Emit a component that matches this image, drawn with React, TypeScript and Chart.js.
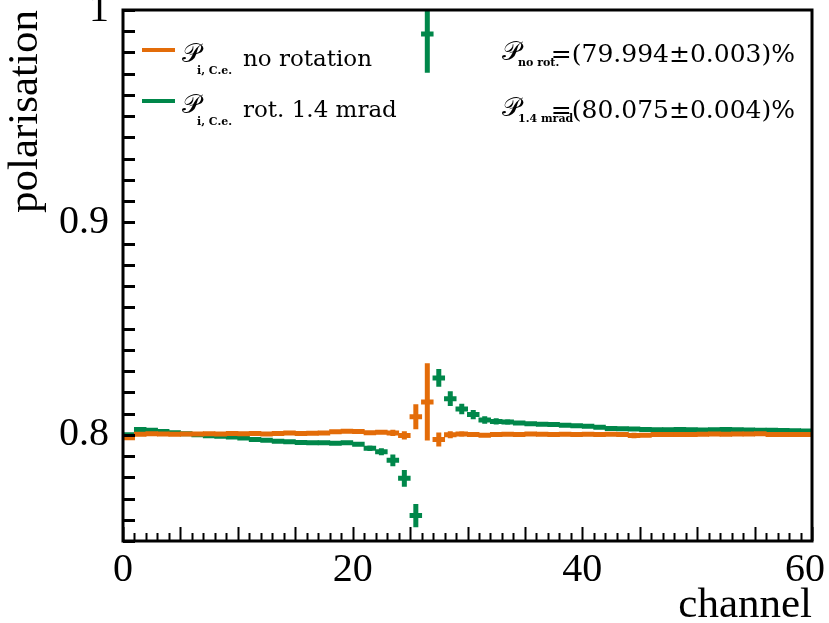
import React, { useEffect, useRef } from 'react';
import { Chart, registerables } from 'chart.js';

Chart.register(...registerables);

// ---- data -------------------------------------------------------------
const channels = [
  0.5, 1.5, 2.5, 3.5, 4.5, 5.5, 6.5, 7.5, 8.5, 9.5,
  10.5, 11.5, 12.5, 13.5, 14.5, 15.5, 16.5, 17.5, 18.5, 19.5,
  20.5, 21.5, 22.5, 23.5, 24.5, 25.5, 26.5, 27.5, 28.5, 29.5,
  30.5, 31.5, 32.5, 33.5, 34.5, 35.5, 36.5, 37.5, 38.5, 39.5,
  40.5, 41.5, 42.5, 43.5, 44.5, 45.5, 46.5, 47.5, 48.5, 49.5,
  50.5, 51.5, 52.5, 53.5, 54.5, 55.5, 56.5, 57.5, 58.5, 59.5,
];

const noRotation = [
  0.7986, 0.8003, 0.8005, 0.8004, 0.8003, 0.8004, 0.8004, 0.8005, 0.8004, 0.8006,
  0.8005, 0.8006, 0.8004, 0.8006, 0.8008, 0.8006, 0.8007, 0.8009, 0.8014, 0.8017,
  0.8016, 0.8010, 0.8012, 0.8009, 0.7997, 0.8085, 0.8155, 0.7978, 0.8000, 0.8004,
  0.8001, 0.7998, 0.8001, 0.8003, 0.8002, 0.8004, 0.8003, 0.8001, 0.8003, 0.8002,
  0.8003, 0.8002, 0.8003, 0.8001, 0.7997, 0.7998, 0.8001, 0.8002, 0.8002, 0.8002,
  0.8003, 0.8004, 0.8003, 0.8004, 0.8004, 0.8005, 0.8002, 0.8002, 0.8002, 0.8002,
];
const noRotationErr = [
  0.0004, 0.0004, 0.0004, 0.0004, 0.0004, 0.0004, 0.0004, 0.0004, 0.0004, 0.0004,
  0.0004, 0.0004, 0.0004, 0.0004, 0.0004, 0.0004, 0.0004, 0.0004, 0.0004, 0.0005,
  0.0005, 0.0006, 0.0007, 0.0010, 0.0015, 0.0054, 0.0177, 0.0028, 0.0012, 0.0008,
  0.0006, 0.0005, 0.0005, 0.0004, 0.0004, 0.0004, 0.0004, 0.0004, 0.0004, 0.0004,
  0.0004, 0.0004, 0.0004, 0.0004, 0.0008, 0.0004, 0.0004, 0.0004, 0.0004, 0.0004,
  0.0004, 0.0004, 0.0004, 0.0004, 0.0004, 0.0004, 0.0004, 0.0004, 0.0004, 0.0004,
];

const rotated = [
  0.8000, 0.8025, 0.8022, 0.8015, 0.8010, 0.8005, 0.8000, 0.7996, 0.7993, 0.7990,
  0.7985, 0.7978, 0.7974, 0.7970, 0.7967, 0.7964, 0.7963, 0.7962, 0.7960, 0.7962,
  0.7955, 0.7937, 0.7920, 0.7880, 0.7795, 0.7620, 0.9887, 0.8268, 0.8170, 0.8122,
  0.8095, 0.8070, 0.8063, 0.8060, 0.8055, 0.8052, 0.8050, 0.8048, 0.8045, 0.8043,
  0.8040, 0.8035, 0.8030, 0.8028, 0.8027, 0.8025, 0.8024, 0.8024, 0.8025, 0.8024,
  0.8023, 0.8024, 0.8025, 0.8024, 0.8023, 0.8022, 0.8021, 0.8020, 0.8019, 0.8018,
];
const rotatedErr = [
  0.0004, 0.0004, 0.0004, 0.0004, 0.0004, 0.0004, 0.0004, 0.0004, 0.0004, 0.0004,
  0.0004, 0.0004, 0.0004, 0.0004, 0.0004, 0.0004, 0.0004, 0.0004, 0.0004, 0.0004,
  0.0006, 0.0008, 0.0012, 0.0023, 0.0035, 0.0050, 0.0178, 0.0037, 0.0030, 0.0020,
  0.0017, 0.0013, 0.0010, 0.0008, 0.0005, 0.0005, 0.0005, 0.0005, 0.0005, 0.0005,
  0.0005, 0.0005, 0.0005, 0.0005, 0.0005, 0.0005, 0.0005, 0.0005, 0.0005, 0.0005,
  0.0005, 0.0005, 0.0005, 0.0005, 0.0005, 0.0005, 0.0005, 0.0005, 0.0005, 0.0005,
];

const binHalfWidth = 0.5;
const xTickLabels = [0, 20, 40, 60];
const yTickLabels = [0.8, 0.9, 1.0];
const xRange = [0, 60];
const yRange = [0.75, 1.0];

const legendLabels = [
  { sub: 'i, C.e.', text: 'no rotation' },
  { sub: 'i, C.e.', text: 'rot. 1.4 mrad' },
];
const resultLabels = [
  { sub: 'no rot.', text: '=(79.994\u00B10.003)%' },
  { sub: '1.4 mrad', text: '=(80.075\u00B10.004)%' },
];

const ORANGE = '#e36c09';
const GREEN = '#00874a';
const SERIF = '"Liberation Serif", "Times New Roman", serif';
const LSERIF = '"DejaVu Serif", serif';
const SCRIPT_P = '\u{1D4AB}';

// ---- plugin: ROOT-like frame, ticks, error bars, legend ---------------
const rootPlugin = {
  id: 'rootPlugin',
  afterDatasetsDraw(chart: any) {
    const { ctx, chartArea: a, scales } = chart;
    const xs = scales.x;
    const ys = scales.y;

    // error bars (draw last dataset first so the first lies on top)
    ctx.save();
    ctx.beginPath();
    ctx.rect(a.left, a.top, a.right - a.left, a.bottom - a.top);
    ctx.clip();
    ctx.lineCap = 'butt';
    const dss = chart.data.datasets;
    for (let d = dss.length - 1; d >= 0; d--) {
      const ds = dss[d];
      ctx.strokeStyle = ds.borderColor;
      ctx.lineWidth = 5;
      ds.data.forEach((p: any, i: number) => {
        const e = ds.errors[i];
        const px = xs.getPixelForValue(p.x);
        const py = ys.getPixelForValue(p.y);
        ctx.beginPath();
        ctx.moveTo(xs.getPixelForValue(p.x - binHalfWidth) - 0.5, py);
        ctx.lineTo(xs.getPixelForValue(p.x + binHalfWidth) + 0.5, py);
        ctx.moveTo(px, ys.getPixelForValue(p.y - e) + 1);
        ctx.lineTo(px, ys.getPixelForValue(p.y + e) - 1);
        ctx.stroke();
      });
    }
    ctx.restore();

    // frame
    ctx.save();
    ctx.strokeStyle = '#000';
    ctx.lineWidth = 3;
    ctx.strokeRect(a.left, a.top, a.right - a.left, a.bottom - a.top);

    // x ticks (inside)
    ctx.lineWidth = 2;
    ctx.beginPath();
    for (let v = xRange[0]; v <= xRange[1]; v += 1) {
      const px = Math.round(xs.getPixelForValue(v)) + 0.5;
      const len = v % 5 === 0 ? 14 : 8;
      ctx.moveTo(px, a.bottom);
      ctx.lineTo(px, a.bottom - len);
    }
    ctx.stroke();
    // y ticks (inside)
    ctx.lineWidth = 3;
    ctx.beginPath();
    for (let k = 0; k <= 25; k++) {
      const v = yRange[0] + k * 0.01;
      const py = Math.round(ys.getPixelForValue(v)) + 0.5;
      ctx.moveTo(a.left, py);
      ctx.lineTo(a.left + 12, py);
    }
    ctx.stroke();

    // x tick labels (kept inside the canvas, as ROOT does)
    ctx.fillStyle = '#000';
    ctx.font = `40px ${SERIF}`;
    ctx.textAlign = 'center';
    ctx.textBaseline = 'alphabetic';
    xTickLabels.forEach((v) => {
      const s = String(v);
      const w = ctx.measureText(s).width;
      const px = Math.min(xs.getPixelForValue(v), chart.width - 4 - w / 2);
      ctx.fillText(s, px, a.bottom + 40);
    });
    ctx.restore();

    // legend
    ctx.save();
    ctx.textBaseline = 'alphabetic';
    ctx.fillStyle = '#000';
    const legendColors = [ORANGE, GREEN];
    const legendMid = [50, 101];
    legendLabels.forEach((l, i) => {
      const y = legendMid[i];
      ctx.strokeStyle = legendColors[i];
      ctx.lineWidth = 4;
      ctx.beginPath();
      ctx.moveTo(142, y);
      ctx.lineTo(175, y);
      ctx.stroke();
      ctx.font = `26px ${LSERIF}`;
      ctx.fillText(SCRIPT_P, 182, y + 12);
      ctx.font = `bold 11px ${LSERIF}`;
      ctx.fillText(l.sub, 197, y + 24);
      ctx.font = `23px ${LSERIF}`;
      ctx.fillText(l.text, 243, y + 16);
    });
    const resBase = [62, 118];
    resultLabels.forEach((r, i) => {
      const y = resBase[i];
      ctx.font = `26px ${LSERIF}`;
      ctx.fillText(SCRIPT_P, 502, y - 2);
      ctx.font = `bold 11px ${LSERIF}`;
      ctx.fillText(r.sub, 518, y + 4);
      ctx.font = `25px ${LSERIF}`;
      ctx.textAlign = 'right';
      ctx.fillText(r.text, 795, y);
      ctx.textAlign = 'left';
    });
    ctx.restore();
  },
};

export default function App() {
  const ref = useRef<HTMLCanvasElement | null>(null);
  useEffect(() => {
    if (!ref.current) return;
    const chart = new Chart(ref.current, {
      type: 'scatter',
      data: {
        datasets: [
          {
            label: 'no rotation',
            data: channels.map((c, i) => ({ x: c, y: noRotation[i] })),
            errors: noRotationErr,
            borderColor: ORANGE,
            backgroundColor: ORANGE,
            pointRadius: 0,
            showLine: false,
          } as any,
          {
            label: 'rot. 1.4 mrad',
            data: channels.map((c, i) => ({ x: c, y: rotated[i] })),
            errors: rotatedErr,
            borderColor: GREEN,
            backgroundColor: GREEN,
            pointRadius: 0,
            showLine: false,
          } as any,
        ],
      },
      options: {
        responsive: false,
        animation: false,
        layout: { padding: { left: 0, top: 10, right: 17, bottom: 0 } },
        plugins: { legend: { display: false }, tooltip: { enabled: false } },
        scales: {
          x: {
            type: 'linear',
            min: xRange[0],
            max: xRange[1],
            afterBuildTicks: (s: any) => {
              s.ticks = xTickLabels.map((v) => ({ value: v }));
            },
            ticks: { display: false },
            grid: { display: false, drawTicks: false },
            border: { display: false },
            title: {
              display: true,
              text: 'channel',
              align: 'end',
              color: '#000',
              font: { family: SERIF, size: 43, lineHeight: 0.8 },
              padding: { top: 0, bottom: 0 },
            },
            afterFit: (s: any) => {
              s.height = 82;
              s.paddingLeft = 0;
              s.paddingRight = 0;
            },
          },
          y: {
            type: 'linear',
            min: yRange[0],
            max: yRange[1],
            afterBuildTicks: (s: any) => {
              s.ticks = yTickLabels.map((v) => ({ value: v }));
            },
            ticks: {
              font: { family: SERIF, size: 40 },
              color: '#000',
              padding: 14,
              autoSkip: false,
              callback: (v: any) => String(Math.round(v * 10) / 10),
            },
            grid: { display: false, drawTicks: false },
            border: { display: false },
            title: {
              display: true,
              text: 'polarisation',
              align: 'end',
              color: '#000',
              font: { family: SERIF, size: 43, lineHeight: 1 },
              padding: { top: 4, bottom: 0 },
            },
            afterFit: (s: any) => {
              s.width = 123;
              s.paddingTop = 0;
              s.paddingBottom = 0;
            },
          },
        },
      } as any,
      plugins: [rootPlugin],
    });
    return () => chart.destroy();
  }, []);
  return (
    <div style={{ position: 'fixed', left: 0, top: 0, width: 829, height: 623, background: '#fff' }}>
      <canvas ref={ref} width={829} height={623} style={{ display: 'block' }} />
    </div>
  );
}
